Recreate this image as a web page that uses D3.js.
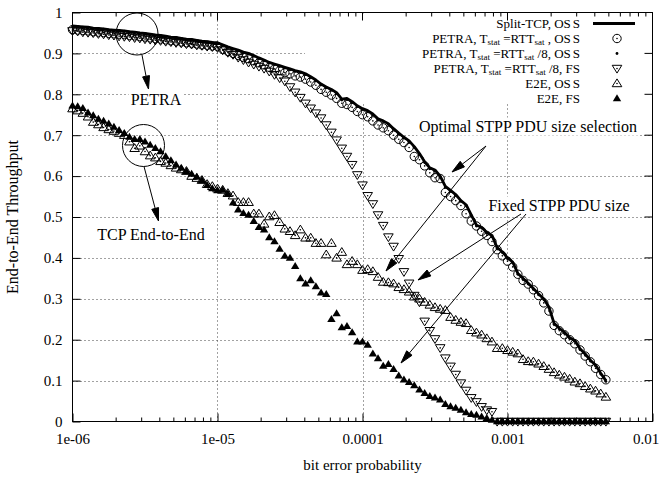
<html>
<head>
    <title>End-to-End Throughput vs bit error probability</title>
    <script src="https://d3js.org/d3.v7.min.js"></script>
    <style>
        body {
            margin: 0;
            background-color: white;
        }
        svg text {
            font-family: "Liberation Serif", "Times New Roman", serif;
            font-size: 15px;
            fill: black;
        }
    </style>
</head>
<body>
    <svg id="chart" width="661" height="477"></svg>

    <script>
        // x sampling: 28 points per decade starting at 1e-6
        const ber = d3.range(104).map(i => 1e-6 * Math.pow(10, i / 28));

        const splitTcpOss = [
            0.967,0.966,0.965,0.964,0.962,0.961,0.960,0.958,0.957,0.956,
            0.955,0.953,0.952,0.950,0.949,0.947,0.945,0.944,0.942,0.940,
            0.939,0.937,0.935,0.934,0.932,0.930,0.929,0.927,0.926,0.921,
            0.916,0.912,0.908,0.903,0.900,0.895,0.889,0.884,0.878,0.874,
            0.870,0.866,0.862,0.858,0.855,0.850,0.843,0.835,0.825,0.818,
            0.812,0.804,0.788,0.790,0.782,0.772,0.765,0.760,0.752,0.740,
            0.735,0.728,0.716,0.705,0.695,0.686,0.672,0.655,0.635,0.620,
            0.615,0.600,0.575,0.565,0.555,0.540,0.530,0.505,0.480,0.475,
            0.462,0.455,0.425,0.415,0.400,0.390,0.362,0.350,0.338,0.325,
            0.312,0.300,0.280,0.240,0.228,0.218,0.205,0.198,0.178,0.165,
            0.150,0.138,0.118,0.100
        ];
        const petraOss = [
            0.958,0.957,0.956,0.955,0.953,0.952,0.951,0.949,0.948,0.947,
            0.946,0.944,0.943,0.941,0.940,0.938,0.936,0.935,0.933,0.931,
            0.930,0.928,0.926,0.925,0.923,0.921,0.920,0.918,0.917,0.910,
            0.905,0.900,0.895,0.890,0.887,0.882,0.877,0.872,0.866,0.862,
            0.858,0.853,0.850,0.845,0.842,0.837,0.830,0.822,0.812,0.805,
            0.798,0.790,0.778,0.775,0.768,0.758,0.750,0.745,0.735,0.725,
            0.718,0.711,0.700,0.690,0.682,0.670,0.648,0.640,0.625,0.608,
            0.596,0.594,0.560,0.550,0.540,0.528,0.508,0.490,0.478,0.465,
            0.455,0.440,0.420,0.405,0.392,0.378,0.360,0.345,0.336,0.322,
            0.308,0.290,0.270,0.235,0.222,0.212,0.200,0.190,0.175,0.160,
            0.146,0.130,0.115,0.102
        ];
        const petraOss8 = [
            0.965,0.964,0.963,0.962,0.960,0.959,0.958,0.956,0.955,0.954,
            0.953,0.951,0.950,0.948,0.947,0.945,0.943,0.942,0.940,0.938,
            0.937,0.935,0.933,0.932,0.930,0.928,0.927,0.925,0.924,0.919,
            0.914,0.910,0.906,0.901,0.898,0.893,0.887,0.882,0.876,0.872,
            0.868,0.864,0.860,0.856,0.853,0.848,0.841,0.833,0.823,0.816,
            0.810,0.802,0.786,0.788,0.780,0.770,0.763,0.758,0.750,0.738,
            0.733,0.726,0.714,0.703,0.693,0.684,0.670,0.653,0.633,0.618,
            0.612,0.598,0.573,0.563,0.553,0.538,0.528,0.503,0.478,0.473,
            0.460,0.452,0.423,0.413,0.398,0.388,0.360,0.348,0.336,0.323,
            0.310,0.298,0.278,0.238,0.226,0.216,0.203,0.196,0.176,0.163,
            0.148,0.136,0.116,0.098
        ];
        const petraFs8 = [
            0.955,0.954,0.952,0.951,0.950,0.948,0.947,0.945,0.944,0.942,
            0.941,0.940,0.938,0.937,0.935,0.934,0.932,0.931,0.929,0.928,
            0.926,0.925,0.923,0.922,0.920,0.919,0.917,0.916,0.914,0.908,
            0.902,0.897,0.890,0.884,0.878,0.873,0.868,0.863,0.856,0.848,
            0.840,0.832,0.818,0.805,0.792,0.778,0.766,0.754,0.742,0.725,
            0.707,0.688,0.668,0.648,0.628,0.603,0.578,0.552,0.532,0.505,
            0.479,0.451,0.428,0.398,0.366,0.338,0.308,0.292,0.245,0.222,
            0.202,0.180,0.155,0.135,0.115,0.094,0.076,0.058,0.048,0.036,
            0.028,0.024,0,0,0,0,0,0,0,0,
            0,0,0,0,0,0,0,0,0,0,
            0,0,0,0
        ];
        const e2eOss = [
            0.765,0.760,0.754,0.745,0.732,0.726,0.719,0.714,0.710,0.705,
            0.700,0.684,0.668,0.674,0.660,0.650,0.645,0.636,0.632,0.626,
            0.620,0.616,0.612,0.600,0.595,0.590,0.580,0.575,0.569,0.566,
            0.558,0.552,0.536,0.536,0.536,0.508,0.508,0.483,0.501,0.504,
            0.487,0.471,0.465,0.455,0.469,0.449,0.449,0.436,0.436,0.408,
            0.436,0.400,0.414,0.384,0.392,0.384,0.370,0.372,0.367,0.353,
            0.341,0.340,0.337,0.328,0.323,0.317,0.305,0.300,0.292,0.285,
            0.279,0.275,0.272,0.255,0.248,0.243,0.240,0.223,0.217,0.212,
            0.203,0.195,0.179,0.179,0.174,0.170,0.166,0.152,0.147,0.146,
            0.141,0.135,0.128,0.120,0.114,0.109,0.104,0.097,0.093,0.086,
            0.080,0.075,0.068,0.060
        ];
        const e2eFs = [
            0.772,0.770,0.766,0.755,0.748,0.740,0.735,0.728,0.720,0.712,
            0.705,0.696,0.690,0.690,0.684,0.676,0.668,0.660,0.648,0.638,
            0.628,0.620,0.612,0.605,0.598,0.590,0.578,0.570,0.565,0.566,
            0.557,0.535,0.518,0.509,0.505,0.490,0.475,0.469,0.450,0.440,
            0.422,0.405,0.400,0.380,0.350,0.337,0.345,0.330,0.315,0.311,
            0.250,0.264,0.230,0.233,0.218,0.195,0.195,0.187,0.166,0.154,
            0.136,0.140,0.128,0.112,0.102,0.096,0.088,0.078,0.069,0.062,
            0.058,0.053,0.042,0.037,0.033,0.028,0.022,0.018,0.016,0.012,
            0.008,0.004,0,0,0,0,0,0,0,0,
            0,0,0,0,0,0,0,0,0,0,
            0,0,0,0
        ];

        const xTicks = [1e-6, 1e-5, 1e-4, 1e-3, 1e-2];
        const xTickLabels = ["1e-06", "1e-05", "0.0001", "0.001", "0.01"];
        const yTicks = [0, 0.1, 0.2, 0.3, 0.4, 0.5, 0.6, 0.7, 0.8, 0.9, 1];
        const yTickLabels = ["0", "0.1", "0.2", "0.3", "0.4", "0.5", "0.6", "0.7", "0.8", "0.9", "1"];

        const pLeft = 72.5, pRight = 652.5, pTop = 12.5, pBottom = 421.5;

        const svg = d3.select("#chart");

        const x = d3.scaleLog().domain([1e-6, 1e-2]).range([pLeft, pRight]);
        const y = d3.scaleLinear().domain([0, 1]).range([pBottom, pTop]);

        // grid
        const grid = svg.append("g")
            .attr("stroke", "#444")
            .attr("stroke-width", 1)
            .attr("stroke-dasharray", "1,3");
        grid.selectAll(".gx")
            .data(xTicks.slice(1, -1))
            .enter().append("line")
            .attr("x1", d => Math.round(x(d)) + 0.5).attr("x2", d => Math.round(x(d)) + 0.5)
            .attr("y1", pTop).attr("y2", pBottom);
        grid.selectAll(".gy")
            .data(yTicks.slice(1, -1))
            .enter().append("line")
            .attr("x1", pLeft).attr("x2", pRight)
            .attr("y1", d => Math.round(y(d)) + 0.5).attr("y2", d => Math.round(y(d)) + 0.5);

        // opaque key area
        svg.append("rect")
            .attr("x", 305).attr("y", pTop + 1)
            .attr("width", pRight - 306).attr("height", 90)
            .attr("fill", "white");

        // boxed labels (opaque)
        const labelLayer = svg.append("g");
        function label(txt, cx, cy) {
            const bg = labelLayer.append("rect").attr("fill", "white");
            const t = labelLayer.append("text")
                .attr("x", cx).attr("y", cy)
                .attr("text-anchor", "middle")
                .attr("dy", "0.35em")
                .style("font-size", "16px")
                .text(txt);
            const b = t.node().getBBox();
            bg.attr("x", b.x - 2).attr("y", b.y).attr("width", b.width + 4).attr("height", b.height);
        }
        label("PETRA", 156, 99);
        label("TCP End-to-End", 151, 234);
        label("Optimal STPP PDU size selection", 528, 126);
        label("Fixed STPP PDU size", 559, 205);

        // marker shapes
        const triUp = "M0,-4.6L4.8,3.2L-4.8,3.2Z";
        const triDown = "M0,4.6L4.8,-3.2L-4.8,-3.2Z";
        const triFill = "M0,-4.2L4.2,2.8L-4.2,2.8Z";

        function pts(vals) {
            return vals.map((v, i) => ({ bx: ber[i], v: v }));
        }

        const plot = svg.append("g");

        // Split-TCP line
        plot.append("path")
            .datum(pts(splitTcpOss))
            .attr("fill", "none")
            .attr("stroke", "black")
            .attr("stroke-width", 2.8)
            .attr("stroke-linejoin", "round")
            .attr("d", d3.line().x(d => x(d.bx)).y(d => y(d.v)));

        function openMarkers(vals, drawShape) {
            const g = plot.append("g");
            const m = g.selectAll("g")
                .data(pts(vals))
                .enter().append("g")
                .attr("transform", d => "translate(" + x(d.bx) + "," + y(d.v) + ")");
            drawShape(m);
            m.append("circle").attr("r", 0.8).attr("fill", "black");
        }

        openMarkers(petraOss, m => m.append("circle")
            .attr("r", 4.2).attr("fill", "none").attr("stroke", "black").attr("stroke-width", 1));

        plot.append("g").selectAll("circle")
            .data(pts(petraOss8))
            .enter().append("circle")
            .attr("cx", d => x(d.bx)).attr("cy", d => y(d.v))
            .attr("r", 1.4).attr("fill", "black");

        openMarkers(petraFs8, m => m.append("path")
            .attr("d", triDown).attr("fill", "none").attr("stroke", "black").attr("stroke-width", 1));

        openMarkers(e2eOss, m => m.append("path")
            .attr("d", triUp).attr("fill", "none").attr("stroke", "black").attr("stroke-width", 1));

        plot.append("g").selectAll("path")
            .data(pts(e2eFs))
            .enter().append("path")
            .attr("transform", d => "translate(" + x(d.bx) + "," + y(d.v) + ")")
            .attr("d", triFill).attr("fill", "black");

        // axes
        const xAxis = svg.append("g")
            .attr("transform", "translate(0," + pBottom + ")")
            .call(d3.axisBottom(x).tickValues(xTicks)
                .tickFormat((d, i) => xTickLabels[i])
                .tickSizeInner(-8).tickSizeOuter(0).tickPadding(12));
        xAxis.select(".domain").remove();
        xAxis.selectAll("text").style("font-size", "15px").attr("font-family", null);
        xAxis.selectAll(".tick").filter((d, i) => i === xTicks.length - 1)
            .select("text").attr("dx", -7);

        const yAxis = svg.append("g")
            .attr("transform", "translate(" + pLeft + ",0)")
            .call(d3.axisLeft(y).tickValues(yTicks)
                .tickFormat((d, i) => yTickLabels[i])
                .tickSizeInner(-8).tickSizeOuter(0).tickPadding(10));
        yAxis.select(".domain").remove();
        yAxis.selectAll("text").style("font-size", "15px").attr("font-family", null);

        // mirrored ticks
        const mirror = svg.append("g").attr("stroke", "black").attr("stroke-width", 1);
        mirror.selectAll(".tt").data(xTicks).enter().append("line")
            .attr("x1", d => x(d)).attr("x2", d => x(d))
            .attr("y1", pTop).attr("y2", pTop + 8);
        mirror.selectAll(".tr").data(yTicks).enter().append("line")
            .attr("x1", pRight).attr("x2", pRight - 8)
            .attr("y1", d => y(d)).attr("y2", d => y(d));

        // minor log ticks
        const minor = [];
        for (let e = -6; e < -2; e++) {
            for (let k = 2; k <= 9; k++) minor.push(k * Math.pow(10, e));
        }
        mirror.selectAll(".mb").data(minor).enter().append("line")
            .attr("x1", d => x(d)).attr("x2", d => x(d))
            .attr("y1", pBottom).attr("y2", pBottom - 4);
        mirror.selectAll(".mt").data(minor).enter().append("line")
            .attr("x1", d => x(d)).attr("x2", d => x(d))
            .attr("y1", pTop).attr("y2", pTop + 4);

        // border
        svg.append("rect")
            .attr("x", pLeft).attr("y", pTop)
            .attr("width", pRight - pLeft).attr("height", pBottom - pTop)
            .attr("fill", "none").attr("stroke", "black").attr("stroke-width", 1);

        // axis titles
        svg.append("text")
            .attr("x", (pLeft + pRight) / 2).attr("y", 470)
            .attr("text-anchor", "middle")
            .text("bit error probability");
        svg.append("text")
            .attr("transform", "translate(18," + (pTop + pBottom) / 2 + ") rotate(-90)")
            .attr("text-anchor", "middle")
            .style("font-size", "16px")
            .text("End-to-End Throughput");

        // annotations
        const ann = svg.append("g").attr("stroke", "black").attr("fill", "none").attr("stroke-width", 1);
        ann.append("circle").attr("cx", 137).attr("cy", 34).attr("r", 21);
        ann.append("circle").attr("cx", 143.5).attr("cy", 145.5).attr("r", 21);

        function arrow(x1, y1, x2, y2) {
            const a = Math.atan2(y2 - y1, x2 - x1);
            const len = 13, hw = 3.5;
            const bx = x2 - len * Math.cos(a), by = y2 - len * Math.sin(a);
            ann.append("line").attr("x1", x1).attr("y1", y1).attr("x2", bx).attr("y2", by);
            ann.append("path")
                .attr("d", "M" + x2 + "," + y2 +
                    "L" + (bx + hw * Math.sin(a)) + "," + (by - hw * Math.cos(a)) +
                    "L" + (bx - hw * Math.sin(a)) + "," + (by + hw * Math.cos(a)) + "Z")
                .attr("fill", "black");
        }
        arrow(142, 55, 148.5, 89);
        arrow(144, 166.5, 158.5, 221);
        arrow(486, 146, 452, 172);
        arrow(486, 146, 386, 271);
        arrow(521, 214, 418, 280);
        arrow(526, 214, 401, 363);

        // legend
        const legendRows = [
            [["Split-TCP, OS", 0], ["S", 0, 2]],
            [["PETRA, T", 0], ["stat", 1], [" =RTT", 0], ["sat", 1], [" , OS", 0], ["S", 0, 2]],
            [["PETRA, T", 0], ["stat", 1], [" =RTT", 0], ["sat", 1], [" /8, OS", 0], ["S", 0, 2]],
            [["PETRA, T", 0], ["stat", 1], [" =RTT", 0], ["sat", 1], [" /8, FS", 0]],
            [["E2E, OS", 0], ["S", 0, 2]],
            [["E2E, FS", 0]]
        ];
        const legY = [23.5, 38.5, 53.5, 68.5, 83.5, 98.5];
        const legend = svg.append("g");
        legendRows.forEach((row, r) => {
            const t = legend.append("text")
                .attr("x", 580).attr("y", legY[r])
                .attr("dy", "0.35em")
                .attr("text-anchor", "end")
                .style("font-size", "13px");
            let sub = false;
            row.forEach(p => {
                const ts = t.append("tspan").text(p[0]);
                let dy = 0;
                if (p[1] && !sub) dy = 1.5;
                if (!p[1] && sub) dy = -1.5;
                if (dy) ts.attr("dy", dy);
                if (p[1]) ts.style("font-size", "9px");
                if (p[2]) ts.attr("dx", p[2]);
                sub = !!p[1];
            });
        });
        const sx = 617;
        legend.append("line").attr("x1", 593).attr("x2", 635)
            .attr("y1", legY[0]).attr("y2", legY[0])
            .attr("stroke", "black").attr("stroke-width", 2.8);
        legend.append("circle").attr("cx", sx).attr("cy", legY[1]).attr("r", 4.2)
            .attr("fill", "none").attr("stroke", "black");
        legend.append("circle").attr("cx", sx).attr("cy", legY[1]).attr("r", 0.8).attr("fill", "black");
        legend.append("circle").attr("cx", sx).attr("cy", legY[2]).attr("r", 1.4).attr("fill", "black");
        legend.append("path").attr("transform", "translate(" + sx + "," + legY[3] + ")")
            .attr("d", triDown).attr("fill", "none").attr("stroke", "black");
        legend.append("circle").attr("cx", sx).attr("cy", legY[3]).attr("r", 0.8).attr("fill", "black");
        legend.append("path").attr("transform", "translate(" + sx + "," + legY[4] + ")")
            .attr("d", triUp).attr("fill", "none").attr("stroke", "black");
        legend.append("circle").attr("cx", sx).attr("cy", legY[4]).attr("r", 0.8).attr("fill", "black");
        legend.append("path").attr("transform", "translate(" + sx + "," + legY[5] + ")")
            .attr("d", triFill).attr("fill", "black");
    </script>
</body>
</html>
